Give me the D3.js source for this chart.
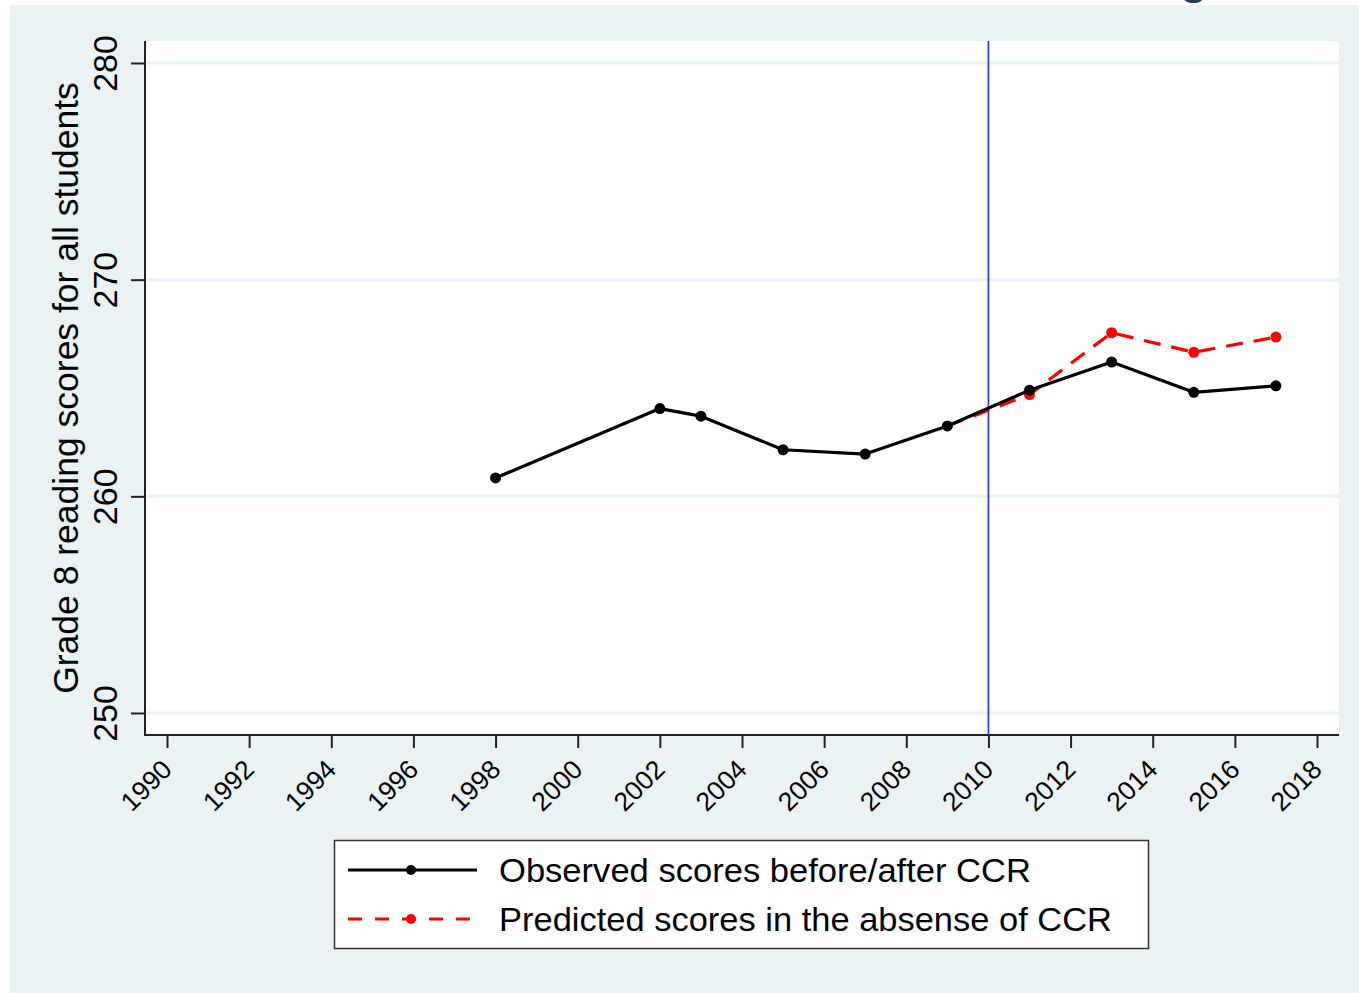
<!DOCTYPE html>
<html>
<head>
<meta charset="utf-8">
<script src="https://cdn.jsdelivr.net/npm/d3@7"></script>
<style>
  html, body { margin: 0; padding: 0; background: #ffffff; }
  svg { display: block; }
  text { font-family: "Liberation Sans", Arial, sans-serif; }
</style>
</head>
<body>
<svg id="chart" width="1359" height="993"></svg>
<script>
// ---- data ----
const observedYears  = [1998, 2002, 2003, 2005, 2007, 2009, 2011, 2013, 2015, 2017];
const observedScores = [260.85, 264.05, 263.7, 262.15, 261.95, 263.25, 264.9, 266.2, 264.8, 265.1];
const predictedYears  = [2009, 2011, 2013, 2015, 2017];
const predictedScores = [263.25, 264.7, 267.55, 266.65, 267.35];
const xTicks = [1990, 1992, 1994, 1996, 1998, 2000, 2002, 2004, 2006, 2008, 2010, 2012, 2014, 2016, 2018];
const yTicks = [250, 260, 270, 280];
const policyYear = 2010;
const yTitle = "Grade 8 reading scores for all students";
const legendLabels = ["Observed scores before/after CCR", "Predicted scores in the absense of CCR"];

// ---- layout ----
const svg = d3.select("#chart");
const W = 1359, H = 993;
const plot = { left: 145, right: 1339, top: 41, bottom: 735 };

const x = d3.scaleLinear().domain([1990, 2018]).range([167, 1317]);
const y = d3.scaleLinear().domain([250, 280]).range([713, 63]);

// cut-off heading fragment at very top (as in the source image)
svg.append("text")
  .attr("x", 1194).attr("y", -6)
  .attr("text-anchor", "middle")
  .attr("font-size", 44).attr("font-weight", "bold")
  .attr("fill", "#1f3a5f")
  .text("g");

// panel background
svg.append("rect")
  .attr("x", 10).attr("y", 5).attr("width", W - 10).attr("height", H - 5)
  .attr("fill", "#eaf2f3");

// plot region
svg.append("rect")
  .attr("x", plot.left).attr("y", plot.top)
  .attr("width", plot.right - plot.left).attr("height", plot.bottom - plot.top)
  .attr("fill", "#ffffff");

// gridlines
svg.append("g").selectAll("line").data(yTicks).join("line")
  .attr("x1", plot.left).attr("x2", plot.right)
  .attr("y1", d => y(d)).attr("y2", d => y(d))
  .attr("stroke", "#eaf2f3").attr("stroke-width", 3);

// y axis
const yAxis = d3.axisLeft(y).tickValues(yTicks).tickSize(14).tickPadding(0).tickFormat(d3.format("d"));
const gy = svg.append("g").attr("transform", `translate(${plot.left},0)`).call(yAxis);
gy.select(".domain").remove();
gy.selectAll(".tick line").attr("stroke", "#222").attr("stroke-width", 2);
gy.selectAll(".tick text")
  .attr("font-family", "'Liberation Sans', Arial, sans-serif")
  .attr("font-size", 34).attr("fill", "#000")
  .attr("text-anchor", "middle")
  .attr("x", 0).attr("dy", 0)
  .attr("transform", "translate(-28,0) rotate(-90)");
svg.append("line")
  .attr("x1", plot.left).attr("x2", plot.left)
  .attr("y1", plot.top).attr("y2", plot.bottom + 1)
  .attr("stroke", "#222").attr("stroke-width", 2);

// x axis
const xAxis = d3.axisBottom(x).tickValues(xTicks).tickSize(13).tickPadding(0).tickFormat(d3.format("d"));
const gx = svg.append("g").attr("transform", `translate(0,${plot.bottom})`).call(xAxis);
gx.select(".domain").remove();
gx.selectAll(".tick line").attr("stroke", "#222").attr("stroke-width", 2);
gx.selectAll(".tick text")
  .attr("font-family", "'Liberation Sans', Arial, sans-serif")
  .attr("font-size", 26.5).attr("fill", "#000")
  .attr("text-anchor", "end")
  .attr("y", 0).attr("dy", 0)
  .attr("transform", "translate(6,36) rotate(-45)");
svg.append("line")
  .attr("x1", plot.left - 1).attr("x2", plot.right)
  .attr("y1", plot.bottom).attr("y2", plot.bottom)
  .attr("stroke", "#222").attr("stroke-width", 2);

// y title
svg.append("text")
  .attr("transform", `translate(78,${(plot.top + plot.bottom) / 2}) rotate(-90)`)
  .attr("text-anchor", "middle")
  .attr("font-size", 35.5).attr("fill", "#000")
  .text(yTitle);

// policy line
svg.append("line")
  .attr("x1", x(policyYear)).attr("x2", x(policyYear))
  .attr("y1", plot.top).attr("y2", plot.bottom)
  .attr("stroke", "#2a2aff").attr("stroke-width", 1.6);

// series
const line = d3.line().x(d => x(d[0])).y(d => y(d[1]));
const pred = predictedYears.map((yr, i) => [yr, predictedScores[i]]);
const obs = observedYears.map((yr, i) => [yr, observedScores[i]]);

svg.append("path").datum(pred).attr("d", line)
  .attr("fill", "none").attr("stroke", "#ff0000").attr("stroke-width", 3.2)
  .attr("stroke-dasharray", "17,11");
svg.append("g").selectAll("circle").data(pred.slice(1)).join("circle")
  .attr("cx", d => x(d[0])).attr("cy", d => y(d[1])).attr("r", 5.5)
  .attr("fill", "#ff0000");

svg.append("path").datum(obs).attr("d", line)
  .attr("fill", "none").attr("stroke", "#000").attr("stroke-width", 3.2)
  .attr("stroke-linejoin", "round");
svg.append("g").selectAll("circle").data(obs).join("circle")
  .attr("cx", d => x(d[0])).attr("cy", d => y(d[1])).attr("r", 5.5)
  .attr("fill", "#000");

// legend
const lg = svg.append("g");
lg.append("rect").attr("x", 334.5).attr("y", 840.5).attr("width", 814).attr("height", 108)
  .attr("fill", "#fff").attr("stroke", "#333").attr("stroke-width", 1.5);
const legendStyles = [
  { color: "#000", dash: null, textLen: 532 },
  { color: "#ff0000", dash: "14,13", textLen: 613 }
];
legendStyles.forEach((s, i) => {
  const yy = 870 + i * 49;
  lg.append("line").attr("x1", 348).attr("x2", 477).attr("y1", yy).attr("y2", yy)
    .attr("stroke", s.color).attr("stroke-width", 3)
    .attr("stroke-dasharray", s.dash);
  lg.append("circle").attr("cx", 411).attr("cy", yy).attr("r", 5).attr("fill", s.color);
  lg.append("text").attr("x", 499).attr("y", yy + 12)
    .attr("font-size", 33).attr("fill", "#000")
    .attr("textLength", s.textLen).attr("lengthAdjust", "spacingAndGlyphs")
    .text(legendLabels[i]);
});
</script>
</body>
</html>
